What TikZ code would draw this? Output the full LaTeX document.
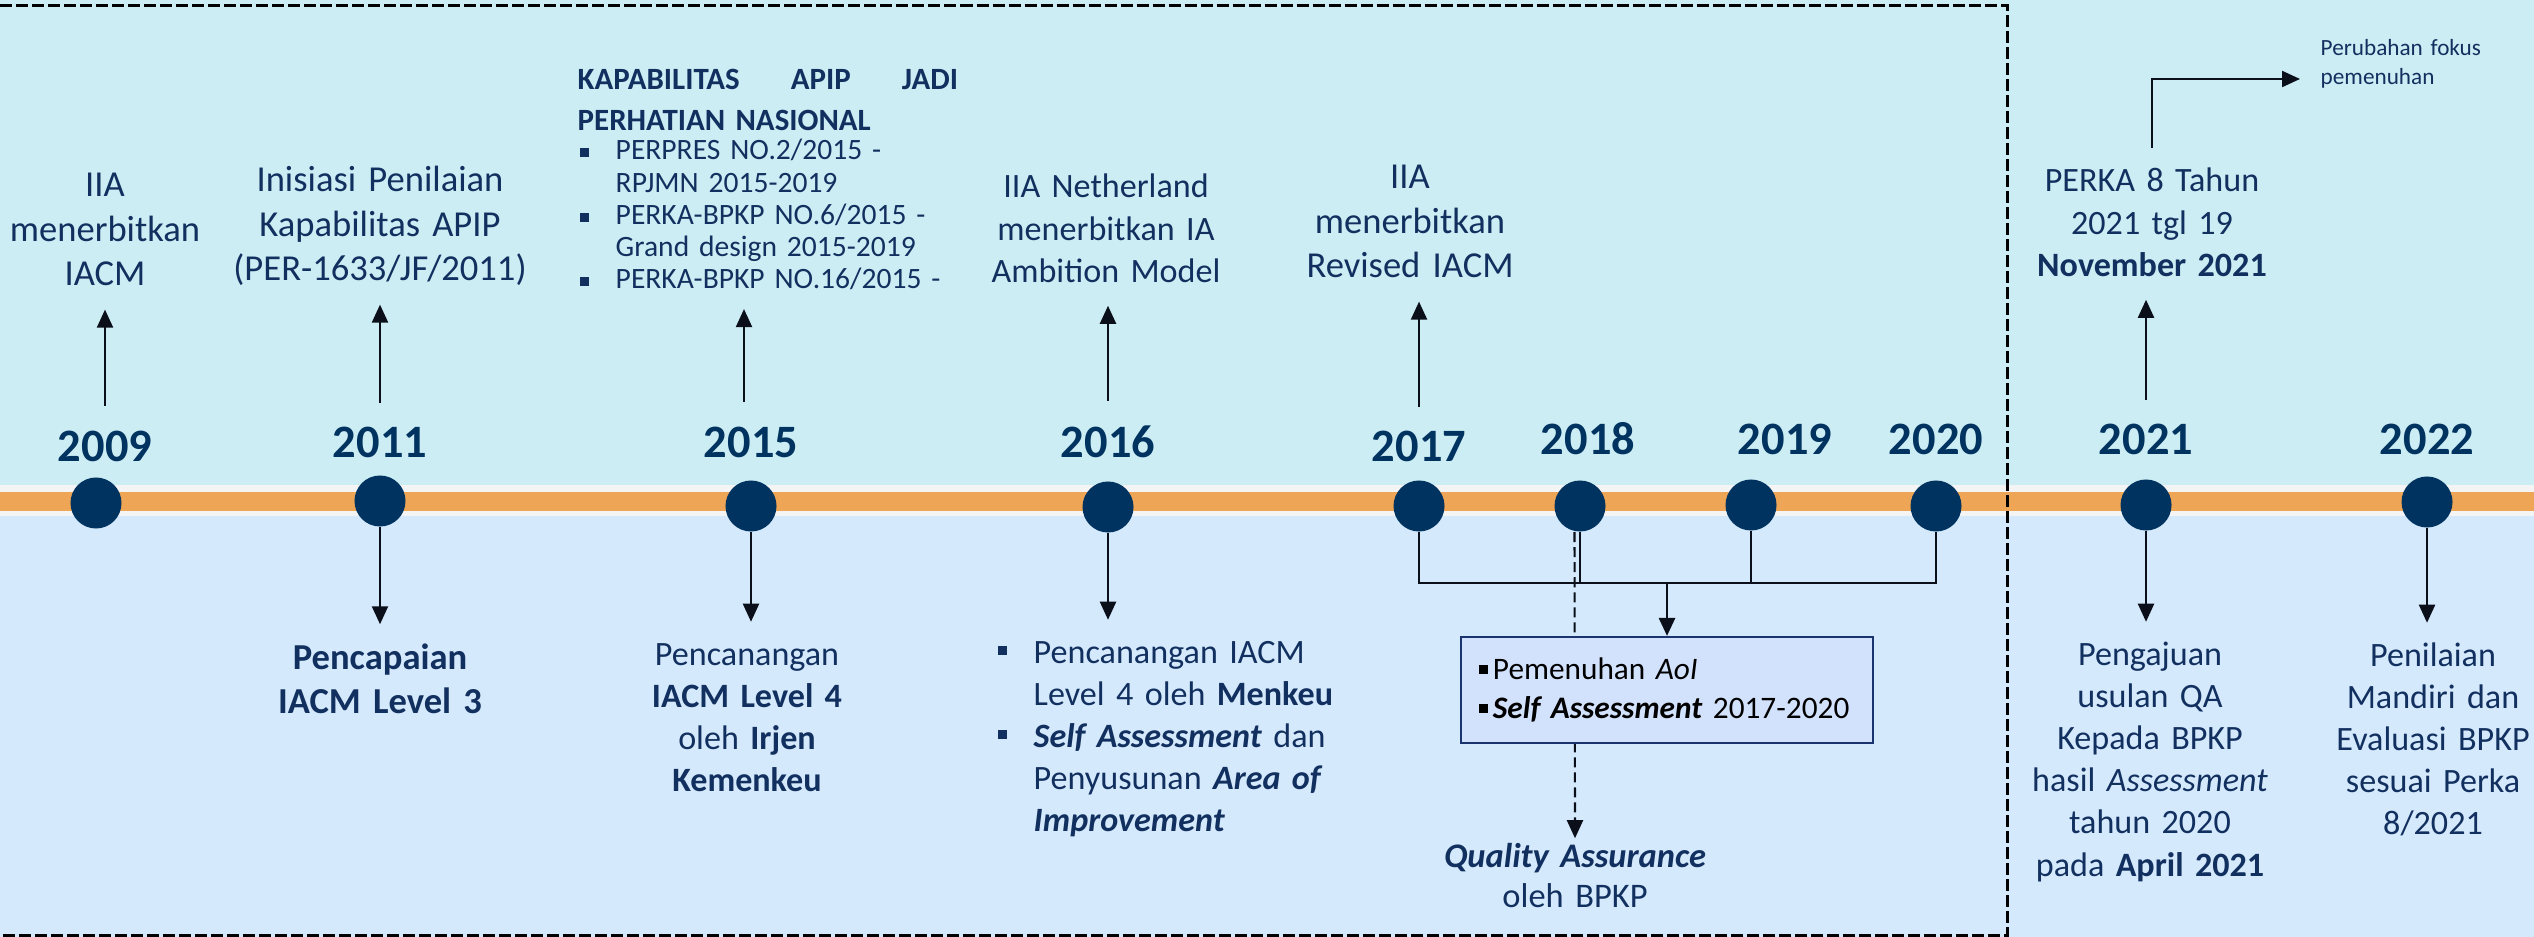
\documentclass[tikz,border=0pt]{standalone}
\usepackage{fontspec}
\setmainfont{Carlito}
\usetikzlibrary{arrows.meta}

\definecolor{topbg}{HTML}{CDEDF4}
\definecolor{botbg}{HTML}{D5E9FC}
\definecolor{strip}{HTML}{F4F4F4}
\definecolor{band}{HTML}{EEA656}
\definecolor{dotblue}{HTML}{00335F}
\definecolor{navy}{HTML}{12305F}
\definecolor{boxfill}{HTML}{D3E2FC}
\definecolor{boxline}{HTML}{1A3470}
\definecolor{linedark}{HTML}{0A0F1A}

% small square bullet: [colour]{raise}
\newcommand{\sqbullet}[2][navy]{\textcolor{#1}{\rule[#2]{0.09cm}{0.09cm}}}

\begin{document}
\begin{tikzpicture}[
            x=0.01cm, y=-0.01cm,
            dot/.style={circle, fill=dotblue, minimum size=0.51cm, inner sep=0pt},
            yearlbl/.style={anchor=base, inner sep=0pt, text=dotblue, font=\fontsize{13.2}{15}\selectfont\bfseries},
            evtext/.style={anchor=base, inner sep=0pt, text width=4cm, align=center, text=navy,
                font=\fontsize{9.7}{12}\selectfont, execute at begin node=\strut, execute at end node=\strut},
            bigtext/.style={evtext, font=\fontsize{10.4}{12.6}\selectfont},
            listtext/.style={evtext, anchor=base west, align=left},
            arr/.style={-{Triangle[length=0.18cm,width=0.16cm]}, line width=0.6pt, draw=linedark},
            link/.style={line width=0.8pt, draw=linedark},
            ]
            \useasboundingbox (0,0) rectangle (2534,937);

            % Background and time line
            \fill[topbg] (0,0) rectangle (2534,485);
            \fill[strip] (0,485) rectangle (2534,516);
            \fill[band] (0,492) rectangle (2534,511);
            \fill[botbg] (0,516) rectangle (2534,937);
            \draw[line width=0.9pt, dash pattern=on 0.12cm off 0.04cm] (0,5.5) -- (2007.5,5.5) -- (2007.5,935.5) -- (0,935.5);

            % Year dots
            \node[dot] (c2009) at (96,503) {};
            \node[dot] (c2011) at (380,501) {};
            \node[dot] (c2015) at (751,506) {};
            \node[dot] (c2016) at (1108,507) {};
            \node[dot] (c2017) at (1419,506) {};
            \node[dot] (c2018) at (1580,506) {};
            \node[dot] (c2019) at (1751,505) {};
            \node[dot] (c2020) at (1936,506) {};
            \node[dot] (c2021) at (2146,505) {};
            \node[dot] (c2022) at (2427,502) {};

            % Year labels
            \node[yearlbl] (l2009) at (105,461) {2009};
            \node[yearlbl] (l2011) at (380,458) {2011};
            \node[yearlbl] (l2015) at (751,457) {2015};
            \node[yearlbl] (l2016) at (1108,457) {2016};
            \node[yearlbl] (l2017) at (1419,462) {2017};
            \node[yearlbl] (l2018) at (1588,455) {2018};
            \node[yearlbl] (l2019) at (1785,455) {2019};
            \node[yearlbl] (l2020) at (1936,455) {2020};
            \node[yearlbl] (l2021) at (2146,455) {2021};
            \node[yearlbl] (l2022) at (2427,455) {2022};

            % Events above the line
            \node[bigtext] (t2009) at (105,197) {IIA\\menerbitkan\\IACM};
            \node[bigtext] (t2011) at (380,192) {Inisiasi Penilaian\\Kapabilitas APIP\\(PER-1633/JF/2011)};
            \node[listtext, text width=3.8cm, font=\fontsize{8.8}{11.4}\selectfont\bfseries] (hd2015) at (577,90) {KAPABILITAS\hfill APIP\hfill JADI\\PERHATIAN NASIONAL};
            \node[listtext, text width=3.8cm, font=\fontsize{8.4}{9.15}\selectfont] (t2015) at (577,160) {\hspace*{0.02cm}\makebox[0.36cm][l]{\sqbullet{0.025cm}}PERPRES NO.2/2015 -\\
                \hspace*{0.38cm}RPJMN 2015-2019\\
                \hspace*{0.02cm}\makebox[0.36cm][l]{\sqbullet{0.025cm}}PERKA-BPKP NO.6/2015 -\\
                \hspace*{0.38cm}Grand design 2015-2019\\
                \hspace*{0.02cm}\makebox[0.36cm][l]{\sqbullet{0.025cm}}PERKA-BPKP NO.16/2015 -};
            \node[evtext] (t2016) at (1106,198) {IIA Netherland\\menerbitkan IA\\Ambition Model};
            \node[bigtext] (t2017) at (1410,189) {IIA\\menerbitkan\\Revised IACM};
            \node[evtext] (t2021) at (2152,192) {PERKA 8 Tahun\\2021 tgl 19\\\textbf{November 2021}};
            \node[listtext, text width=2cm, font=\fontsize{6.6}{8.2}\selectfont] (fokus) at (2320,56) {Perubahan fokus\\pemenuhan};
            \coordinate (fk) at (2300,79);

            % Events below the line
            \node[bigtext, font=\fontsize{10.4}{12.6}\selectfont\bfseries] (b2011) at (380,669) {Pencapaian\\IACM Level 3};
            \node[evtext] (b2015) at (747,665) {Pencanangan\\\textbf{IACM Level 4}\\oleh \textbf{Irjen}\\\textbf{Kemenkeu}};
            \node[listtext, text width=3.4cm] (b2016) at (997,663) {\makebox[0.36cm][l]{\sqbullet{0.08cm}}Pencanangan IACM\\
                \hspace*{0.36cm}Level 4 oleh \textbf{Menkeu}\\
                \makebox[0.36cm][l]{\sqbullet{0.08cm}}\textbf{\textit{Self Assessment}} dan\\
                \hspace*{0.36cm}Penyusunan \textbf{\textit{Area of}}\\
                \hspace*{0.36cm}\textbf{\textit{Improvement}}};
            \node[evtext] (b2021) at (2150,665) {Pengajuan\\usulan QA\\Kepada BPKP\\hasil \textit{Assessment}\\tahun 2020\\pada \textbf{April 2021}};
            \node[evtext] (b2022) at (2433,666) {Penilaian\\Mandiri dan\\Evaluasi BPKP\\sesuai Perka\\8/2021};
            \node[evtext, font=\fontsize{9.8}{11.4}\selectfont] (qa) at (1575,867) {\textbf{\textit{Quality Assurance}}\\oleh BPKP};

            % Lines
            \draw[arr, shorten <=0.24cm, shorten >=0.1cm] (l2009.north) -- (l2009.north |- t2009.south);
            \draw[arr, shorten <=0.24cm, shorten >=0.1cm] (l2011.north) -- (l2011.north |- t2011.south);
            \draw[arr, shorten <=0.24cm, shorten >=0.1cm] ([xshift=-0.07cm]l2015.north) -- ([xshift=-0.07cm]l2015.north |- t2015.south);
            \draw[arr, shorten <=0.24cm, shorten >=0.1cm] (l2016.north) -- (l2016.north |- t2016.south);
            \draw[arr, shorten <=0.24cm, shorten >=0.1cm] (l2017.north) -- (l2017.north |- t2017.south);
            \draw[arr, shorten <=0.24cm, shorten >=0.1cm] (l2021.north) -- (l2021.north |- t2021.south);
            \draw[arr, shorten <=0.14cm] (t2021.north) |- (fk);

            \draw[arr, shorten >=0.13cm] (c2011.south) -- (c2011.south |- b2011.north);
            \draw[arr, shorten >=0.13cm] (c2015.south) -- (c2015.south |- b2015.north);
            \draw[arr, shorten >=0.13cm] (c2016.south) -- (c2016.south |- b2016.north);
            \draw[arr, shorten >=0.13cm] (c2021.south) -- (c2021.south |- b2021.north);
            \draw[arr, shorten >=0.13cm] (c2022.south) -- (c2022.south |- b2022.north);

            % 2017-2020 joined into one box
            \draw[arr, dash pattern=on 0.1cm off 0.05cm] ([xshift=-0.055cm]c2018.south) -- (qa.north);
            \coordinate (join) at (1667,583);
            \draw[link] (c2017.south) |- (join) -| (c2020.south);
            \draw[link] (c2018.south) -- (c2018.south |- join);
            \draw[link] (c2019.south) -- (c2019.south |- join);
            \node[draw=boxline, line width=0.6pt, fill=boxfill, minimum width=4.12cm, minimum height=1.06cm,
                text width=3.76cm, inner xsep=0.18cm, align=left, font=\fontsize{8.9}{11.1}\selectfont] (qbox) at (1667,690)
                {\sqbullet[black]{0.06cm}\hspace{0.05cm}Pemenuhan \textit{AoI}\\\sqbullet[black]{0.06cm}\hspace{0.05cm}\textbf{\textit{Self Assessment}} 2017-2020};
            \draw[arr, line width=0.8pt] (join) -- (qbox.north);
\end{tikzpicture}
\end{document}
